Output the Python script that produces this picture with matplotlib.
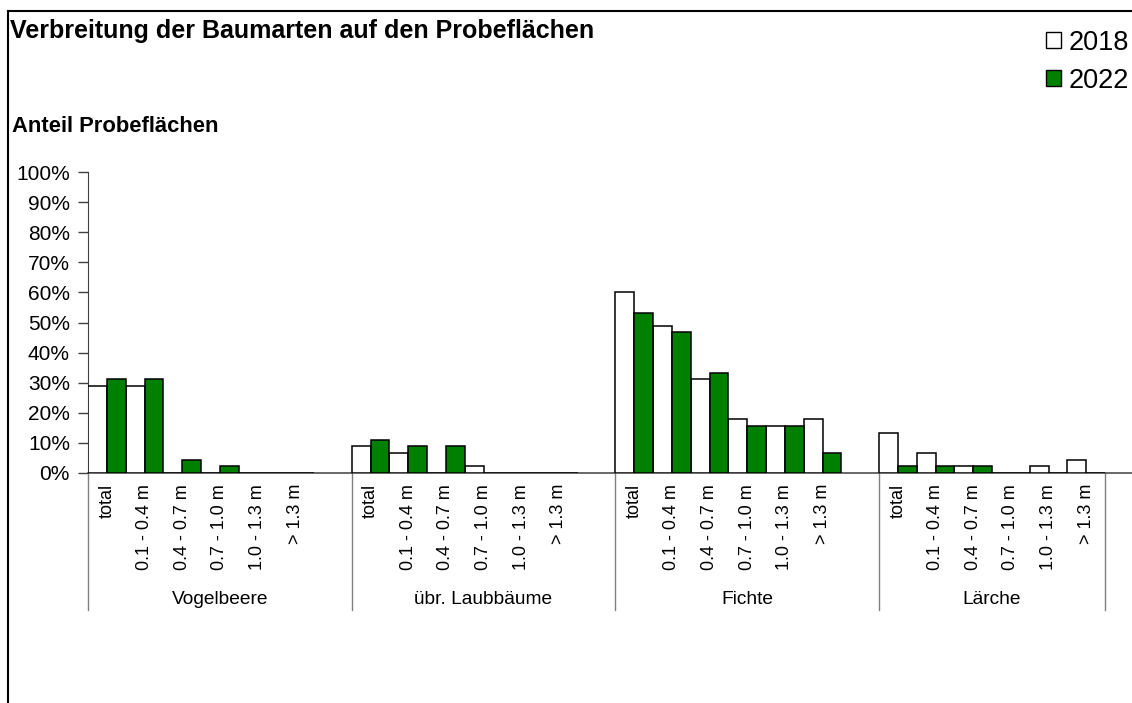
import numpy as np
import matplotlib
matplotlib.use('Agg')
import matplotlib.pyplot as plt
from matplotlib.patches import Patch
from matplotlib.lines import Line2D

plt.rcParams['font.family'] = ['Liberation Sans', 'DejaVu Sans']

# data (share of sample plots in %)
species = ['Vogelbeere', 'übr. Laubbäume', 'Fichte', 'Lärche']
heights = ['total', '0.1 - 0.4 m', '0.4 - 0.7 m', '0.7 - 1.0 m', '1.0 - 1.3 m', '> 1.3 m']
share_2018 = [
    [28.9, 28.9, 0.0, 0.0, 0.0, 0.0],
    [8.9, 6.7, 0.0, 2.2, 0.0, 0.0],
    [60.0, 48.9, 31.1, 17.8, 15.6, 17.8],
    [13.3, 6.7, 2.2, 0.0, 2.2, 4.4],
]
share_2022 = [
    [31.1, 31.1, 4.4, 2.2, 0.0, 0.0],
    [11.1, 8.9, 8.9, 0.0, 0.0, 0.0],
    [53.3, 46.7, 33.3, 15.6, 15.6, 6.7],
    [2.2, 2.2, 2.2, 0.0, 0.0, 0.0],
]
years = ['2018', '2022']

green = '#008000'
W, H = 1132, 703
fig = plt.figure(figsize=(W / 100, H / 100), dpi=100)

# plot area: y axis at x=88, 0% at y=473, 100% at y=172
ax = fig.add_axes([88 / W, (H - 473) / H, (W - 88) / W, (473 - 172) / H])

slot = 7  # 6 height classes + one empty slot per species
pos, labels = [], []
for g in range(len(species)):
    for k in range(len(heights)):
        pos.append(g * slot + k + 0.5)
        labels.append(heights[k])
pos = np.array(pos)
v18 = np.array(share_2018).ravel() / 100
v22 = np.array(share_2022).ravel() / 100

ax.bar(pos - 0.25, v18, width=0.5, color='white', edgecolor='black', linewidth=1.1, zorder=3)
ax.bar(pos + 0.25, v22, width=0.5, color=green, edgecolor='black', linewidth=1.1, zorder=3)

ax.set_xlim(0, (W - 88) / 37.67)
ax.set_ylim(0, 1)
ax.set_yticks(np.arange(0, 1.01, 0.1))
ax.set_yticklabels([f'{int(round(v * 100))}%' for v in np.arange(0, 1.01, 0.1)], fontsize=15)
ax.tick_params(axis='y', length=7, width=1, color='#404040', pad=6)
ax.set_xticks(pos)
ax.set_xticklabels(labels, rotation=90, fontsize=13)
ax.tick_params(axis='x', length=0, pad=8)

for s in ['top', 'right']:
    ax.spines[s].set_visible(False)
ax.spines['left'].set_color('#404040')
ax.spines['bottom'].set_color('#404040')
ax.spines['bottom'].set_linewidth(1.1)

# group dividers and species names below the axis
trans = ax.get_xaxis_transform()
ybot = -(610 - 473) / (473 - 172)
edges = [0, 7, 14, 21, 27]
for e in edges:
    ax.plot([e, e], [0, ybot], transform=trans, color='#808080', lw=1, clip_on=False)
for g, name in enumerate(species):
    mid = (edges[g] + edges[g + 1]) / 2
    ax.text(mid, -(600 - 473) / (473 - 172), name, transform=trans,
            ha='center', va='center', fontsize=13.8)

# titles
fig.text(10 / W, 1 - 38 / H, 'Verbreitung der Baumarten auf den Probeflächen',
         fontsize=18, fontweight='bold', va='baseline')
fig.text(12 / W, 1 - 132 / H, 'Anteil Probeflächen', fontsize=15.8, fontweight='bold', va='baseline')

# legend
handles = [Patch(facecolor='white', edgecolor='black', linewidth=1.0),
           Patch(facecolor=green, edgecolor='black', linewidth=1.0)]
fig.legend(handles, years, loc='upper right', bbox_to_anchor=(1.0, 1 - 27 / H),
           frameon=False, fontsize=19.5, handlelength=0.55, handleheight=0.55,
           handletextpad=0.3, labelspacing=0.45, borderpad=0, borderaxespad=0.1)

# outer border of the chart frame
fig.add_artist(Line2D([8 / W, 8 / W], [0, 1 - 11 / H], transform=fig.transFigure, color='black', lw=1.5))
fig.add_artist(Line2D([8 / W, 1], [1 - 11 / H, 1 - 11 / H], transform=fig.transFigure, color='black', lw=1.5))

fig.savefig('out.png', dpi=100)
